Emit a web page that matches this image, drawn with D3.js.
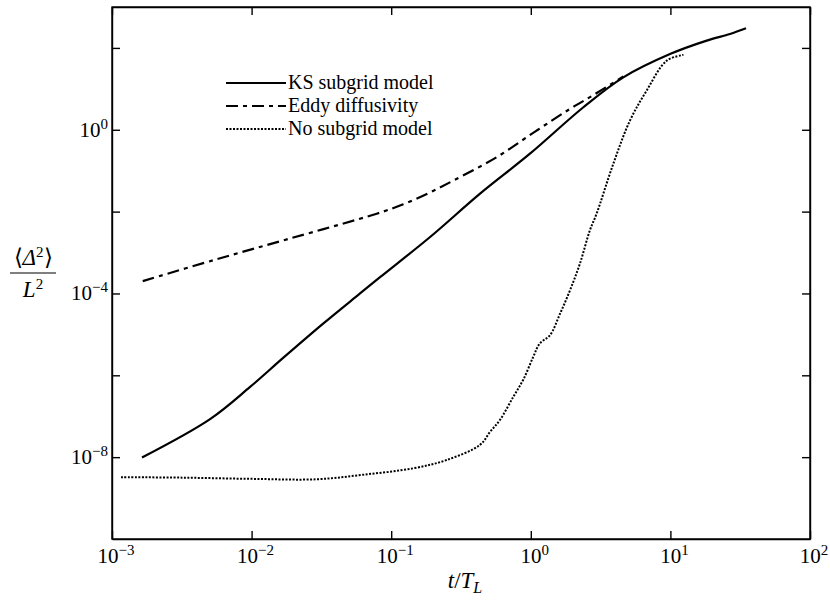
<!DOCTYPE html>
<html>
<head>
<meta charset="utf-8">
<script src="https://cdn.jsdelivr.net/npm/d3@7"></script>
<style>
  body { margin: 0; background: #fff; }
</style>
</head>
<body>
<svg id="drawing_region"></svg>
<script>
// KS subgrid model (solid)
const ks_t = [1.64e-3, 5.04e-3, 9.75e-3, 1.69e-2, 3.27e-2, 5.98e-2, 8.32e-2, 0.190, 0.433, 0.986, 2.38, 4.60, 9.93, 18.2, 26.7, 34.8];
const ks_y = [9.8e-9, 8.5e-8, 5.2e-7, 2.7e-6, 1.86e-5, 1.0e-4, 2.5e-4, 2.4e-3, 2.75e-2, 0.26, 3.55, 19.1, 70.8, 151, 219, 302];

// Eddy diffusivity (dash-dot)
const eddy_t = [1.66e-3, 5.32e-3, 1.88e-2, 7.87e-2, 0.122, 0.184, 0.279, 0.570, 1.10, 1.91, 2.82, 4.60];
const eddy_y = [2.0e-4, 6.5e-4, 2.2e-3, 8.9e-3, 1.51e-2, 2.79e-2, 5.75e-2, 0.214, 0.955, 3.24, 7.1, 20];

// No subgrid model (dotted)
const nosg_t = [1.16e-3, 3.16e-3, 1.0e-2, 2.92e-2, 6.31e-2, 0.145, 0.249, 0.433, 0.511, 0.601, 0.750, 0.883, 1.04, 1.16, 1.37, 1.62, 1.91, 2.25, 2.65, 2.96, 3.90, 5.14, 6.76, 9.42, 12.4];
const nosg_y = [3.24e-9, 3.16e-9, 2.95e-9, 2.88e-9, 3.72e-9, 5.37e-9, 8.5e-9, 2.0e-8, 4.17e-8, 8.1e-8, 3.0e-7, 7.8e-7, 2.8e-6, 6.0e-6, 9.5e-6, 3.2e-5, 1.2e-4, 5.4e-4, 3.5e-3, 8.9e-3, 0.148, 1.70, 9.1, 49, 67.6];

const x_ticks = [1e-3, 1e-2, 1e-1, 1e0, 1e1, 1e2];
const x_exp = ['\u22123', '\u22122', '\u22121', '0', '1', '2'];
const y_ticks = [1e-8, 1e-6, 1e-4, 1e-2, 1e0, 1e2];
const y_label_ticks = [1e-8, 1e-4, 1e0];
const y_exp = ['\u22128', '\u22124', '0'];

const series_names = ['KS subgrid model', 'Eddy diffusivity', 'No subgrid model'];

const serif = '"Liberation Serif", serif';

const config = {
    width: 830,
    height: 603,
    margin: {top: 7, right: 20, bottom: 64, left: 112}
};

const svg = d3.select('#drawing_region')
    .attr('width', config.width)
    .attr('height', config.height);

const inner_width = config.width - config.margin.left - config.margin.right;
const inner_height = config.height - config.margin.top - config.margin.bottom;

const chart = svg.append('g')
    .attr('transform', `translate(${config.margin.left}, ${config.margin.top})`);

const xscale = d3.scaleLog()
    .domain([1e-3, 1e2])
    .range([0, inner_width]);

const yscale = d3.scaleLog()
    .domain([1e-10, 1e3])
    .range([inner_height, 0]);

// frame with inward ticks on all four sides
const tick_len = 8;
chart.append('g')
    .attr('transform', `translate(0, ${inner_height})`)
    .call(d3.axisBottom(xscale).tickValues(x_ticks).tickSizeInner(-tick_len).tickSizeOuter(0).tickFormat(''));
chart.append('g')
    .call(d3.axisTop(xscale).tickValues(x_ticks).tickSizeInner(-tick_len).tickSizeOuter(0).tickFormat(''));
chart.append('g')
    .call(d3.axisLeft(yscale).tickValues(y_ticks).tickSizeInner(-tick_len).tickSizeOuter(0).tickFormat(''));
chart.append('g')
    .attr('transform', `translate(${inner_width}, 0)`)
    .call(d3.axisRight(yscale).tickValues(y_ticks).tickSizeInner(-tick_len).tickSizeOuter(0).tickFormat(''));

chart.selectAll('.domain, .tick line')
    .attr('stroke', '#000')
    .attr('stroke-width', 1.4);

chart.append('rect')
    .attr('width', inner_width)
    .attr('height', inner_height)
    .attr('fill', 'none')
    .attr('stroke', '#000')
    .attr('stroke-width', 1.4);

// x tick labels
const xl = chart.selectAll('.xlabel')
    .data(x_ticks)
    .enter()
    .append('text')
    .style('font-family', serif)
    .attr('x', d => xscale(d) + 4)
    .attr('y', inner_height + 24)
    .attr('text-anchor', 'middle')
    .attr('font-size', '21px');
xl.append('tspan').text('10');
xl.append('tspan').attr('dy', -8).attr('font-size', '15px').text((d, i) => x_exp[i]);

// y tick labels
const yl = chart.selectAll('.ylabel')
    .data(y_label_ticks)
    .enter()
    .append('text')
    .style('font-family', serif)
    .attr('x', -4)
    .attr('y', d => yscale(d) + 7)
    .attr('text-anchor', 'end')
    .attr('font-size', '21px');
yl.append('tspan').text('10');
yl.append('tspan').attr('dy', -8).attr('font-size', '15px').text((d, i) => y_exp[i]);

// axis titles
const xt = svg.append('text')
    .style('font-family', serif)
    .attr('x', 465)
    .attr('y', 588)
    .attr('text-anchor', 'middle')
    .attr('font-size', '23px')
    .attr('font-style', 'italic');
xt.append('tspan').text('t');
xt.append('tspan').attr('font-style', 'normal').text('/');
xt.append('tspan').text('T');
xt.append('tspan').attr('dy', 5).attr('font-size', '16px').text('L');

const yt = svg.append('text')
    .style('font-family', serif)
    .attr('x', 33)
    .attr('y', 265)
    .attr('text-anchor', 'middle')
    .attr('font-size', '23px');
yt.append('tspan').text('\u27E8');
yt.append('tspan').attr('font-style', 'italic').text('\u0394');
yt.append('tspan').attr('dy', -8).attr('font-size', '15px').text('2');
yt.append('tspan').attr('dy', 8).text('\u27E9');

svg.append('line')
    .attr('x1', 10).attr('x2', 56)
    .attr('y1', 273).attr('y2', 273)
    .attr('stroke', '#000')
    .attr('stroke-width', 1.2);

const yt2 = svg.append('text')
    .style('font-family', serif)
    .attr('x', 33)
    .attr('y', 297)
    .attr('text-anchor', 'middle')
    .attr('font-size', '23px');
yt2.append('tspan').attr('font-style', 'italic').text('L');
yt2.append('tspan').attr('dy', -8).attr('font-size', '15px').text('2');

// curves
const line = d3.line()
    .x(d => xscale(d[0]))
    .y(d => yscale(d[1]))
    .curve(d3.curveCatmullRom);

const styles = [
    {dash: null, width: 2.2},
    {dash: '12,5,4,5', width: 2.2},
    {dash: '2,1.5', width: 2}
];

const series = [
    d3.zip(ks_t, ks_y),
    d3.zip(eddy_t, eddy_y),
    d3.zip(nosg_t, nosg_y)
];

chart.selectAll('.curve')
    .data(series)
    .enter()
    .append('path')
    .attr('d', d => line(d))
    .attr('fill', 'none')
    .attr('stroke', '#000')
    .attr('stroke-width', (d, i) => styles[i].width)
    .attr('stroke-dasharray', (d, i) => styles[i].dash);

// legend
const legend = svg.append('g');
const leg_y = [83, 106, 129];
legend.selectAll('line')
    .data(series_names)
    .enter()
    .append('line')
    .attr('x1', 226).attr('x2', 286)
    .attr('y1', (d, i) => leg_y[i]).attr('y2', (d, i) => leg_y[i])
    .attr('stroke', '#000')
    .attr('stroke-width', (d, i) => styles[i].width)
    .attr('stroke-dasharray', (d, i) => styles[i].dash);
legend.selectAll('text')
    .data(series_names)
    .enter()
    .append('text')
    .style('font-family', serif)
    .attr('x', 288)
    .attr('y', (d, i) => leg_y[i] + 6)
    .attr('font-size', '20px')
    .text(d => d);
</script>
</body>
</html>
